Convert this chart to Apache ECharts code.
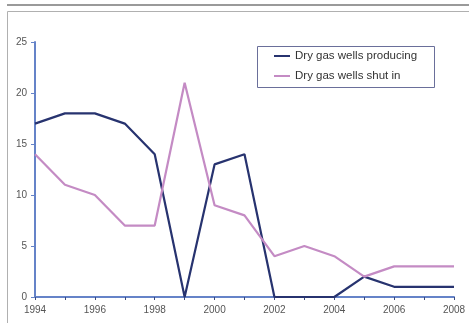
<!DOCTYPE html>
<html><head><meta charset="utf-8">
<script src="https://cdn.jsdelivr.net/npm/echarts@6/dist/echarts.min.js"></script>
<style>html,body{margin:0;padding:0;background:#fff}#c{width:469px;height:323px}</style>
</head><body><div id="c"></div>
<script>
const years = ['1994','1995','1996','1997','1998','1999','2000','2001','2002','2003','2004','2005','2006','2007','2008'];
const producing = [17,18,18,17,14,0,13,14,0,0,0,2,1,1,1];
const shutIn = [14,11,10,7,7,21,9,8,4,5,4,2,3,3,3];
const seriesNames = ['Dry gas wells producing','Dry gas wells shut in'];

const chart = echarts.init(document.getElementById('c'));
chart.setOption({
  animation:false,
  backgroundColor:'#fff',
  graphic:[
    {type:'line',shape:{x1:7,y1:5,x2:469,y2:5},style:{stroke:'#9a9a9a',lineWidth:2}},
    {type:'polyline',shape:{points:[[7.5,323],[7.5,11.5],[469,11.5]]},style:{stroke:'#b0b0b0',lineWidth:1,fill:null}},
    {type:'rect',shape:{x:257.5,y:46.5,width:177,height:41},style:{stroke:'#6a6f9a',lineWidth:1,fill:'#fff'},z:0}
  ],
  grid:{left:35,right:15,top:42,bottom:26},
  legend:{
    data:seriesNames,orient:'vertical',left:274,top:50,padding:0,itemWidth:16,itemHeight:2,itemGap:8,
    icon:'rect',
    textStyle:{fontFamily:'Liberation Sans',fontSize:11.5,color:'#333'},
    z:10
  },
  xAxis:{
    type:'category',data:years,boundaryGap:false,
    axisLine:{lineStyle:{color:'#6583c8',width:2}},
    axisTick:{show:true,interval:0,length:3,lineStyle:{color:'#3a4a80'}},
    axisLabel:{interval:1,color:'#555',fontFamily:'Liberation Sans',fontSize:10,margin:8}
  },
  yAxis:{
    type:'value',min:0,max:25,interval:5,
    axisLine:{show:true,lineStyle:{color:'#6583c8',width:2}},
    axisTick:{show:true,length:4,lineStyle:{color:'#6583c8'}},
    splitLine:{show:false},
    axisLabel:{color:'#555',fontFamily:'Liberation Sans',fontSize:10,margin:8}
  },
  series:[
    {name:seriesNames[0],type:'line',data:producing,showSymbol:false,lineStyle:{color:'#27336f',width:2.2},itemStyle:{color:'#27336f'}},
    {name:seriesNames[1],type:'line',data:shutIn,showSymbol:false,lineStyle:{color:'#c48bc4',width:2.2},itemStyle:{color:'#c48bc4'}}
  ]
});
</script></body></html>
